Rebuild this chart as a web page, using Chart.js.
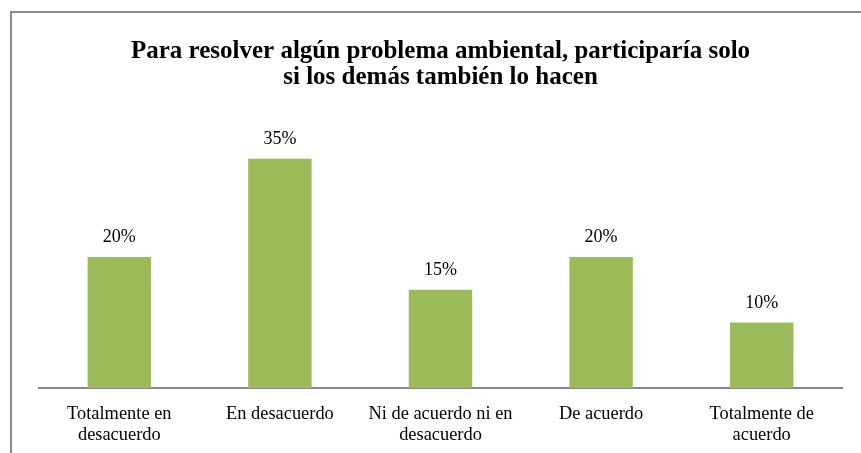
<!DOCTYPE html>
<html>
<head>
<meta charset="utf-8">
<script src="https://cdn.jsdelivr.net/npm/chart.js@4"></script>
<style>
  html, body { margin: 0; padding: 0; background: #fff; }
  #wrap { position: relative; width: 861px; height: 453px; overflow: hidden; }
  #frame { position: absolute; left: 10px; top: 11px; right: -5px; bottom: -5px;
           border-left: 2px solid #8c8c8c; border-top: 2px solid #8c8c8c; }
  #chart { position: absolute; left: 0; top: 0; }
</style>
</head>
<body>
<div id="wrap">
  <div id="frame"></div>
  <canvas id="chart" width="861" height="453"></canvas>
</div>
<script>
// datos
const categorias = [
  ['Totalmente en', 'desacuerdo'],
  'En desacuerdo',
  ['Ni de acuerdo ni en', 'desacuerdo'],
  'De acuerdo',
  ['Totalmente de', 'acuerdo']
];
const porcentajes = [20, 35, 15, 20, 10];
const titulo = ['Para resolver algún problema ambiental, participaría solo', 'si los demás también lo hacen'];

const serif = '"Liberation Serif", "Times New Roman", serif';

// etiquetas encima de cada barra
const etiquetas = {
  id: 'etiquetas',
  afterDatasetsDraw(chart) {
    const ctx = chart.ctx;
    const meta = chart.getDatasetMeta(0);
    ctx.save();
    ctx.font = '18px ' + serif;
    ctx.fillStyle = '#000';
    ctx.textAlign = 'center';
    ctx.textBaseline = 'alphabetic';
    meta.data.forEach((bar, i) => {
      ctx.fillText(porcentajes[i] + '%', bar.x, bar.y - 15);
    });
    ctx.restore();
  }
};

new Chart(document.getElementById('chart'), {
  type: 'bar',
  data: {
    labels: categorias,
    datasets: [{
      data: porcentajes,
      backgroundColor: '#9BBB59',
      categoryPercentage: 1,
      barPercentage: 0.395
    }]
  },
  options: {
    responsive: false,
    animation: false,
    layout: { padding: { left: 39, right: 19, top: 0, bottom: 0 } },
    plugins: {
      legend: { display: false },
      tooltip: { enabled: false },
      title: {
        display: true,
        text: titulo,
        color: '#000',
        font: { family: serif, size: 25, weight: 'bold', lineHeight: 1.04 },
        padding: { top: 39, bottom: 35 }
      }
    },
    scales: {
      y: {
        display: false,
        min: 0,
        max: 40,
        afterFit(scale) { scale.width = 0; }
      },
      x: {
        grid: { display: false, drawTicks: false },
        border: { display: true, color: '#868686', width: 2 },
        ticks: {
          color: '#000',
          font: { family: serif, size: 18.4, lineHeight: 1.14 },
          padding: 16,
          maxRotation: 0,
          autoSkip: false
        },
        afterFit(scale) { scale.height = 65; }
      }
    }
  },
  plugins: [etiquetas]
});
</script>
</body>
</html>
